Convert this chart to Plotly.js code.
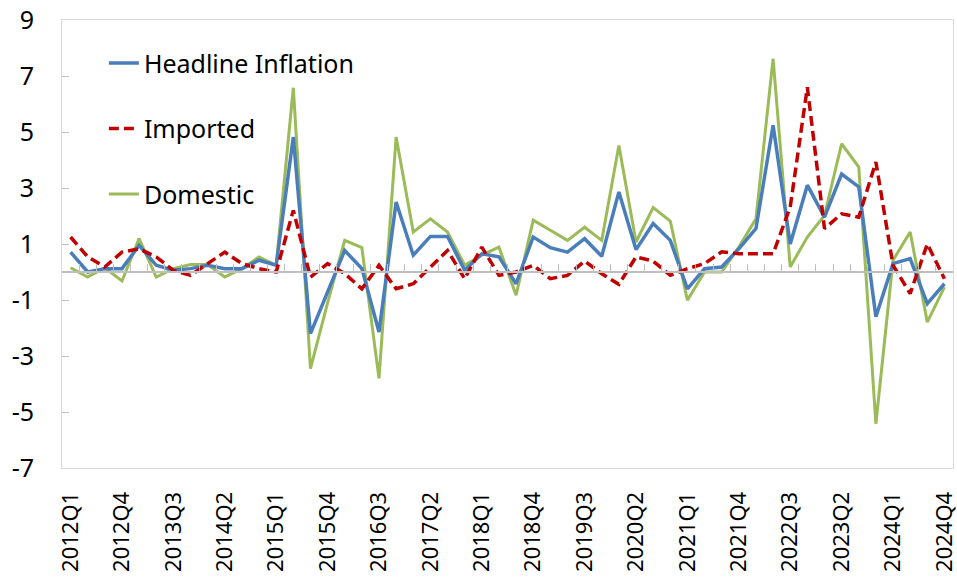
<!DOCTYPE html>
<html>
<head>
<meta charset="utf-8">
<script src="https://cdn.plot.ly/plotly-3.0.1.min.js"></script>
<style>html,body{margin:0;padding:0;background:#fff;}#chart{width:957px;height:581px;}</style>
</head>
<body>
<div id="chart"></div>
<script>
const quarters = [];
for (let y = 2012; y <= 2024; y++) { for (let q = 1; q <= 4; q++) quarters.push(y + 'Q' + q); }

const tickLabels = ['2012Q1','2012Q4','2013Q3','2014Q2','2015Q1','2015Q4','2016Q3','2017Q2','2018Q1','2018Q4','2019Q3','2020Q2','2021Q1','2021Q4','2022Q3','2023Q2','2024Q1','2024Q4'];

const headline = [0.71, 0.0, 0.12, 0.12, 0.95, 0.24, 0.06, 0.12, 0.24, 0.12, 0.12, 0.42, 0.24, 4.82,
  -2.2, -0.7, 0.77, 0.12, -2.14, 2.5, 0.6, 1.27, 1.27, 0.06, 0.65, 0.54,
  -0.42, 1.25, 0.87, 0.71, 1.19, 0.56, 2.86, 0.8, 1.73, 1.13, -0.6, 0.12, 0.18,
  0.83, 1.55, 5.24, 1.0, 3.1, 1.96, 3.5, 3.04, -1.6, 0.3, 0.48, -1.13, -0.42];

const imported = [1.25, 0.54, 0.18, 0.71, 0.83, 0.54, 0.06, -0.12, 0.3, 0.71, 0.3, 0.12, 0.0, 2.2,
  -0.18, 0.3, -0.06, -0.6, 0.24, -0.6, -0.42, 0.18, 0.77, -0.24, 0.89, -0.12,
  0.0, 0.24, -0.24, -0.12, 0.39, -0.06, -0.44, 0.54, 0.39, -0.12, 0.12, 0.3, 0.72,
  0.65, 0.65, 0.65, 2.32, 6.6, 1.55, 2.08, 1.96, 3.93, 0.24, -0.77, 1.0, -0.24];

const domestic = [0.15, -0.18, 0.15, -0.32, 1.19, -0.18, 0.12, 0.27, 0.27, -0.18, 0.12, 0.54, 0.24, 6.58,
  -3.45, -1.1, 1.13, 0.87, -3.8, 4.82, 1.43, 1.9, 1.43, 0.24, 0.6, 0.89,
  -0.83, 1.85, 1.49, 1.13, 1.6, 1.13, 4.52, 1.07, 2.3, 1.82, -1.01, 0.0, 0.0,
  0.89, 1.9, 7.62, 0.18, 1.25, 2.02, 4.58, 3.75, -5.42, 0.42, 1.43, -1.79, -0.54];

const yTicks = [-7, -5, -3, -1, 1, 3, 5, 7, 9];

const FONT = 'Noto Sans, Open Sans, sans-serif';

const traces = [
  { x: quarters, y: domestic, name: 'Domestic', type: 'scatter', mode: 'lines',
    line: { color: '#9BBB59', width: 3 }, legendrank: 3, legendgroup: 'c', xaxis: 'x2' },
  { x: quarters, y: headline, name: 'Headline Inflation', type: 'scatter', mode: 'lines',
    line: { color: '#4A7EBB', width: 3.5 }, legendrank: 1, legendgroup: 'a', xaxis: 'x2' },
  { x: quarters, y: imported, name: 'Imported', type: 'scatter', mode: 'lines',
    line: { color: '#C00000', width: 3.5, dash: '10px,5px' }, legendrank: 2, legendgroup: 'b', xaxis: 'x2' },
  { x: quarters, y: quarters.map(() => null), type: 'scatter', mode: 'lines', showlegend: false,
    hoverinfo: 'skip', xaxis: 'x' }
];

const layout = {
  width: 957, height: 581,
  margin: { l: 62, r: 4, t: 20, b: 113 },
  paper_bgcolor: '#ffffff', plot_bgcolor: '#ffffff',
  font: { family: FONT, color: '#000000', size: 25 },
  showlegend: true,
  legend: {
    x: 0.047, y: 0.955, xanchor: 'left', yanchor: 'top',
    font: { family: FONT, size: 25, color: '#000000' },
    bgcolor: 'rgba(255,255,255,0)', traceorder: 'grouped', tracegroupgap: 30
  },
  xaxis: {
    type: 'category', categoryorder: 'array', categoryarray: quarters,
    range: [-0.5, quarters.length - 0.5],
    anchor: 'free', position: 7 / 16,
    showline: true, linecolor: '#BFBFBF', linewidth: 2,
    ticks: 'inside', tickson: 'boundaries', ticklen: 7, tickcolor: '#BFBFBF', tickwidth: 1,
    showticklabels: false, showgrid: false, zeroline: false, fixedrange: true
  },
  xaxis2: {
    type: 'category', categoryorder: 'array', categoryarray: quarters,
    range: [-0.5, quarters.length - 0.5],
    overlaying: 'x', anchor: 'y', side: 'bottom',
    tickmode: 'array', tickvals: tickLabels, ticktext: tickLabels,
    tickangle: -90, ticks: '', ticklabelstandoff: 14,
    tickfont: { family: FONT, size: 22, color: '#000000' },
    showline: true, mirror: true, linecolor: '#D9D9D9', linewidth: 1,
    showgrid: false, zeroline: false
  },
  yaxis: {
    range: [-7, 9], tickmode: 'array', tickvals: yTicks, ticktext: yTicks.map(String),
    ticks: 'inside', ticklen: 7, tickcolor: '#BFBFBF', ticklabelstandoff: 22,
    tickfont: { family: FONT, size: 25, color: '#000000' },
    showline: true, mirror: true, linecolor: '#D9D9D9', linewidth: 1,
    showgrid: false, zeroline: false
  }
};

Plotly.newPlot('chart', traces, layout, { displayModeBar: false, staticPlot: true });
</script>
</body>
</html>
